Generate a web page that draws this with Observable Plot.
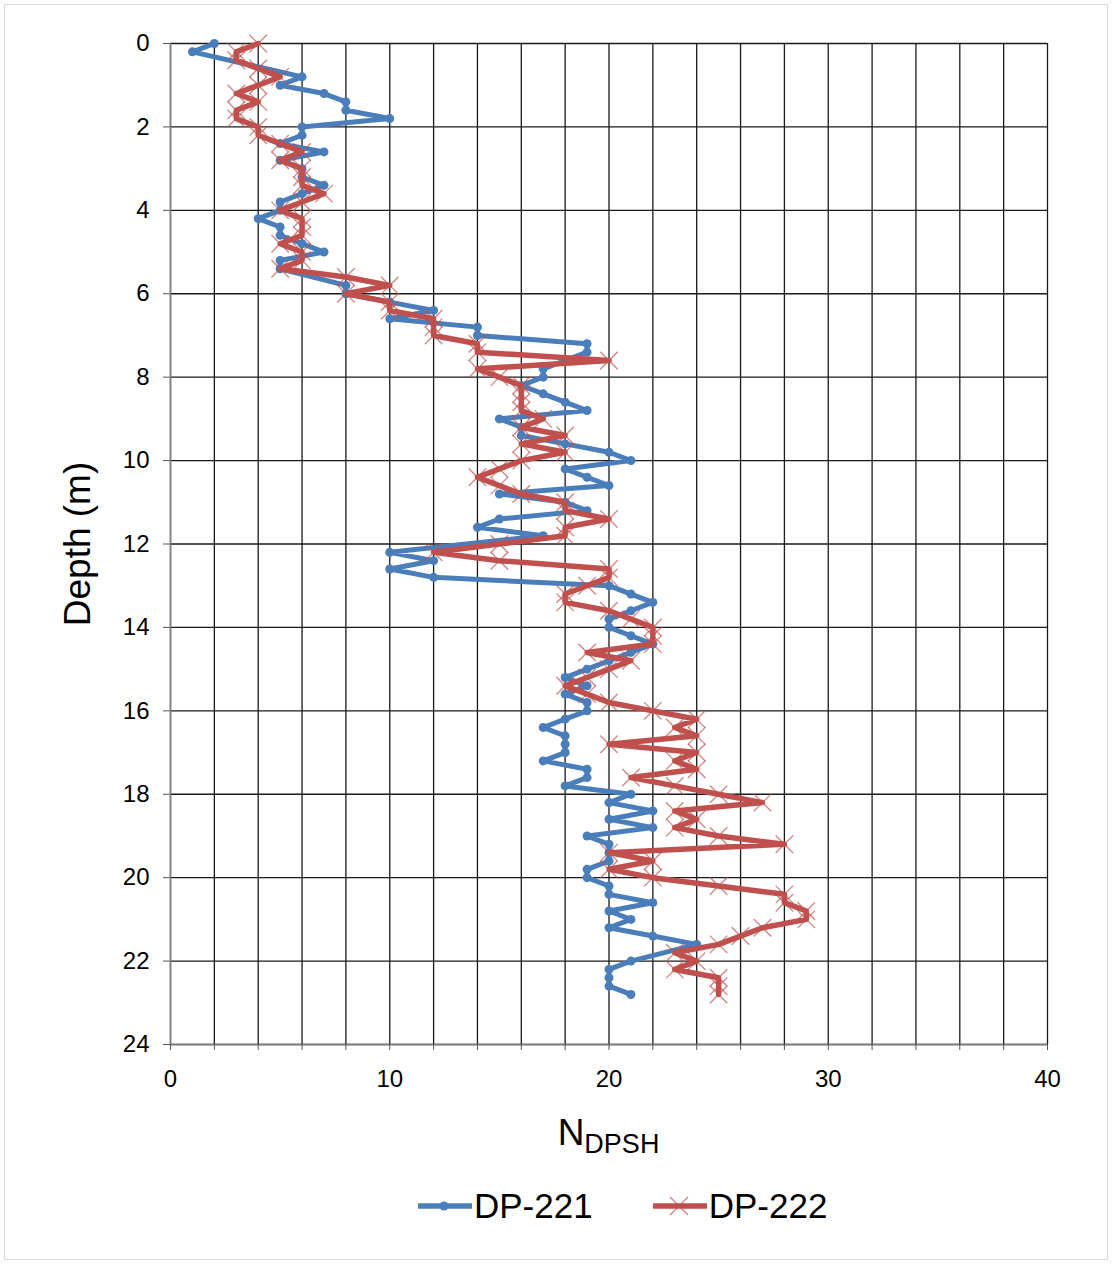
<!DOCTYPE html>
<html>
<head>
<meta charset="utf-8">
<script src="https://cdn.jsdelivr.net/npm/d3@7"></script>
<script src="https://cdn.jsdelivr.net/npm/@observablehq/plot@0.6"></script>
<style>
  body { margin: 0; background: #fff; font-family: "Liberation Sans", Arial, sans-serif; }
  #wrap { position: relative; width: 1114px; height: 1265px; overflow: hidden; background: #fff; }
  #border { position: absolute; left: 4px; top: 4px; width: 1104px; height: 1256px; border: 1px solid #d9d9d9; box-sizing: border-box; }
  #chart { position: absolute; left: 0; top: 0; }
  #xtitle { position: absolute; left: 0; top: 1112px; width: 1217px; text-align: center; color: #000; white-space: nowrap; }
  #xtitle .main { font-size: 37px; }
  #xtitle sub { font-size: 27px; vertical-align: -0.3em; }
  #legend { position: absolute; top: 1186px; left: 418px; display: flex; align-items: center; font-size: 35px; color: #000; white-space: nowrap; }
  #legend .item { display: flex; align-items: center; }
  #legend svg { display: block; }
</style>
</head>
<body>
<div id="wrap">
  <div id="border"></div>
  <div id="chart"></div>
  <div id="xtitle"><span class="main">N</span><sub>DPSH</sub></div>
  <div id="legend"></div>
</div>
<script>
// ---- Data ----
const seriesNames = ["DP-221", "DP-222"];
const seriesColors = ["#4A7EBB", "#C0504D"];

const dp221Depth = [0.0,0.2,0.8,1.0,1.2,1.4,1.6,1.8,2.0,2.2,2.4,2.6,2.8,3.0,3.2,3.4,3.6,3.8,4.0,4.2,4.4,4.6,4.8,5.0,5.2,5.4,5.8,6.0,6.2,6.4,6.6,6.8,7.0,7.2,7.4,7.6,7.8,8.0,8.2,8.4,8.6,8.8,9.0,9.2,9.4,9.6,9.8,10.0,10.2,10.4,10.6,10.8,11.0,11.2,11.4,11.6,11.8,12.2,12.4,12.6,12.8,13.0,13.2,13.4,13.6,13.8,14.0,14.2,14.4,14.6,14.8,15.0,15.2,15.4,15.6,15.8,16.0,16.2,16.4,16.6,16.8,17.0,17.2,17.4,17.6,17.8,18.0,18.2,18.4,18.6,18.8,19.0,19.2,19.4,19.6,19.8,20.0,20.2,20.4,20.6,20.8,21.0,21.2,21.4,21.6,22.0,22.2,22.4,22.6,22.8];
const dp221N = [2,1,6,5,7,8,8,10,6,6,5,7,5,6,6,7,6,5,5,4,5,5,6,7,5,5,8,8,10,12,10,14,14,19,19,18,17,17,16,17,18,19,15,16,16,18,20,21,18,19,20,15,18,19,15,14,17,10,12,10,12,20,21,22,21,20,20,21,22,21,20,19,18,19,18,19,19,18,17,18,18,18,17,19,19,18,21,20,22,20,22,19,20,20,20,19,19,20,20,22,20,21,20,22,24,21,20,20,20,21];

const dp222Depth = [0.0,0.2,0.4,0.6,0.8,1.0,1.2,1.4,1.6,1.8,2.0,2.2,2.4,2.6,2.8,3.0,3.2,3.4,3.6,3.8,4.0,4.2,4.4,4.6,4.8,5.0,5.2,5.4,5.6,5.8,6.0,6.2,6.4,6.6,6.8,7.0,7.2,7.4,7.6,7.8,8.0,8.2,8.4,8.6,8.8,9.0,9.2,9.4,9.6,9.8,10.0,10.2,10.4,10.6,10.8,11.0,11.2,11.4,11.6,11.8,12.0,12.2,12.4,12.6,12.8,13.0,13.2,13.4,13.6,13.8,14.0,14.2,14.4,14.6,14.8,15.0,15.2,15.4,15.6,15.8,16.0,16.2,16.4,16.6,16.8,17.0,17.2,17.4,17.6,17.8,18.0,18.2,18.4,18.6,18.8,19.0,19.2,19.4,19.6,19.8,20.0,20.2,20.4,20.6,20.8,21.0,21.2,21.4,21.6,21.8,22.0,22.2,22.4,22.6,22.8];
const dp222N = [4,3,3,4,5,4,3,4,3,3,4,4,5,6,5,6,6,6,7,6,5,6,6,6,5,6,6,5,8,10,8,10,10,12,12,12,14,14,20,14,15,16,16,16,16,17,16,18,16,18,16,15,14,15,16,18,18,20,18,18,15,12,15,20,20,19,18,18,20,21,22,22,22,19,21,20,19,18,19,20,22,24,23,24,20,24,23,24,21,23,25,27,23,24,23,25,28,20,22,20,22,25,28,28,29,29,27,26,25,23,24,23,25,25,25];

const xTicks = [0,10,20,30,40];
const yTicks = [0,2,4,6,8,10,12,14,16,18,20,22,24];
const yAxisTitle = "Depth (m)";

// ---- Build tables ----
const blue = dp221Depth.map((d, i) => ({depth: d, n: dp221N[i]}));
const red = dp222Depth.map((d, i) => ({depth: d, n: dp222N[i]}));

const font = "Liberation Sans, Arial, sans-serif";

const chart = Plot.plot({
  width: 1114,
  height: 1100,
  marginTop: 43,
  marginLeft: 170,
  marginRight: 67,
  marginBottom: 56,
  style: {fontFamily: font, background: "transparent", color: "#000"},
  x: {domain: [0, 40]},
  y: {domain: [0, 24], reverse: true},
  marks: [
    Plot.gridX(d3.range(0, 41, 2), {stroke: "#1a1a1a", strokeOpacity: 1, strokeWidth: 1.3}),
    Plot.gridY(d3.range(0, 25, 2), {stroke: "#1a1a1a", strokeOpacity: 1, strokeWidth: 1.3}),
    Plot.ruleX([0], {stroke: "#7f7f7f", strokeWidth: 1.5}),
    Plot.ruleY([24], {stroke: "#7f7f7f", strokeWidth: 1.5}),
    Plot.axisX(d3.range(0, 41, 2), {
      tickSize: 6, tickPadding: 19, fontSize: 24, stroke: "#555",
      tickFormat: d => (xTicks.includes(d) ? String(d) : ""), label: null
    }),
    Plot.axisY(yTicks, {
      tickSize: 7, tickPadding: 14, fontSize: 24, stroke: "#555", label: null
    }),
    Plot.text([yAxisTitle], {
      frameAnchor: "left", textAnchor: "middle", text: d => d, rotate: -90, dx: -92, fontSize: 37, fill: "#000"
    }),
    Plot.line(blue, {x: "n", y: "depth", stroke: seriesColors[0], strokeWidth: 5, strokeLinejoin: "round"}),
    Plot.dot(blue, {x: "n", y: "depth", r: 4.5, fill: seriesColors[0], stroke: "none"}),
    Plot.line(red, {x: "n", y: "depth", stroke: seriesColors[1], strokeWidth: 5.5, strokeLinejoin: "round"}),
    Plot.dot(red, {x: "n", y: "depth", symbol: "times", r: 8, stroke: seriesColors[1], strokeWidth: 1.3, strokeOpacity: 0.7})
  ]
});
document.getElementById("chart").appendChild(chart);

// ---- Legend ----
const legend = document.getElementById("legend");
seriesNames.forEach((name, i) => {
  const item = document.createElement("div");
  item.className = "item";
  if (i > 0) item.style.marginLeft = "60px";
  const sym = i === 0
    ? `<circle cx="26" cy="12" r="4.5" fill="${seriesColors[0]}"/>`
    : `<path d="M17,3 L35,21 M17,21 L35,3" stroke="${seriesColors[1]}" stroke-opacity="0.7" stroke-width="1.3"/>`;
  item.innerHTML = `<svg width="54" height="24"><line x1="0" y1="12" x2="54" y2="12" stroke="${seriesColors[i]}" stroke-width="5.5"/>${sym}</svg><span style="margin-left:2px">${name}</span>`;
  legend.appendChild(item);
});
</script>
</body>
</html>
